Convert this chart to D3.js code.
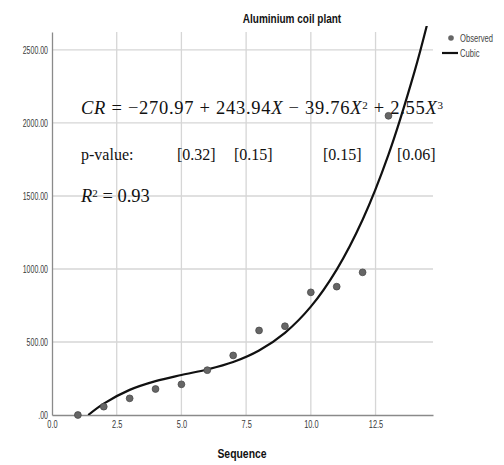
<!DOCTYPE html>
<html>
<head>
<meta charset="utf-8">
<script src="https://cdn.jsdelivr.net/npm/d3@7"></script>
<style>
  body { margin: 0; background: #fff; }
  .narrow { font-family: "Liberation Sans", Arial, sans-serif; }
  .serif { font-family: "Liberation Serif", "Times New Roman", serif; }
</style>
</head>
<body>
<div id="chart"></div>
<script>
// observed points
const seqX = [1, 2, 3, 4, 5, 6, 7, 8, 9, 10, 11, 12, 13];
const observed = [0, 57, 114, 178, 210, 307, 408, 579, 608, 840, 879, 977, 2049];

// cubic fit line
const curveX = [1.4, 2, 3, 4, 5, 6, 7, 8, 9, 10, 11, 12, 13, 14, 14.5];
const curveY = [0, 78, 172, 232, 274, 312, 363, 442, 563, 742, 996, 1337, 1783, 2348, 2680];

const xTicks = [0, 2.5, 5, 7.5, 10, 12.5];
const yTicks = [0, 500, 1000, 1500, 2000, 2500];
const pValues = ["[0.32]", "[0.15]", "[0.15]", "[0.06]"];

const W = 504, H = 465;
const plotL = 52, plotR = 433, plotT = 32, plotB = 415;

const svg = d3.select("#chart").append("svg")
  .attr("width", W).attr("height", H);

// squeeze Arial-like text to look like Arial Narrow
function squeeze(sel, k) {
  sel.each(function () {
    const len = this.getComputedTextLength();
    d3.select(this).attr("textLength", len * k).attr("lengthAdjust", "spacingAndGlyphs");
  });
}

const x = d3.scaleLinear().domain([0, 14.72]).range([plotL, plotR]);
const y = d3.scaleLinear().domain([0, 2623]).range([plotB, plotT]);

// grid
svg.append("g").selectAll("line").data(yTicks.filter(d => d > 0)).enter()
  .append("line")
  .attr("x1", plotL).attr("x2", plotR)
  .attr("y1", d => y(d)).attr("y2", d => y(d))
  .attr("stroke", "#d6d6d6").attr("stroke-width", 1.3);

svg.append("g").selectAll("line").data(xTicks.filter(d => d > 0)).enter()
  .append("line")
  .attr("x1", d => x(d)).attr("x2", d => x(d))
  .attr("y1", plotT).attr("y2", plotB)
  .attr("stroke", "#d6d6d6").attr("stroke-width", 1.3);

// axes
const yAxis = svg.append("g")
  .attr("transform", `translate(${plotL},0)`)
  .call(d3.axisLeft(y).tickValues(yTicks).tickSize(0).tickPadding(4)
    .tickFormat(d => d === 0 ? ".00" : d3.format(".2f")(d)));
yAxis.select(".domain").attr("stroke", "#8a8a8a").attr("stroke-width", 1.3);
yAxis.selectAll("text").attr("class", "narrow").style("font-size", "10px").attr("fill", "#3a3a3a")
  .call(squeeze, 0.7);

const xAxis = svg.append("g")
  .attr("transform", `translate(0,${plotB})`)
  .call(d3.axisBottom(x).tickValues(xTicks).tickSize(0).tickPadding(6)
    .tickFormat(d3.format(".1f")));
xAxis.select(".domain").attr("stroke", "#8a8a8a").attr("stroke-width", 1.3);
xAxis.selectAll("text").attr("class", "narrow").style("font-size", "10px").attr("fill", "#3a3a3a")
  .call(squeeze, 0.74);

// clip
svg.append("clipPath").attr("id", "plot")
  .append("rect").attr("x", plotL).attr("y", plotT - 6).attr("width", plotR - plotL).attr("height", plotB - plotT + 6);

// fit line
const line = d3.line()
  .x((d, i) => x(curveX[i]))
  .y(d => y(d))
  .curve(d3.curveCatmullRom);

svg.append("path")
  .datum(curveY)
  .attr("d", line)
  .attr("clip-path", "url(#plot)")
  .attr("fill", "none")
  .attr("stroke", "#111")
  .attr("stroke-width", 2.2);

// observed points
svg.append("g").selectAll("circle").data(observed).enter()
  .append("circle")
  .attr("cx", (d, i) => x(seqX[i]))
  .attr("cy", d => y(d))
  .attr("r", 3.4)
  .attr("fill", "#666")
  .attr("stroke", "#4a4a4a")
  .attr("stroke-width", 0.8);

// title & axis label
svg.append("text")
  .attr("class", "narrow")
  .attr("x", 292).attr("y", 23)
  .attr("text-anchor", "middle")
  .style("font-size", "12.5px").style("font-weight", "bold")
  .attr("fill", "#111")
  .text("Aluminium coil plant")
  .call(squeeze, 0.8);

svg.append("text")
  .attr("class", "narrow")
  .attr("x", 242).attr("y", 458)
  .attr("text-anchor", "middle")
  .style("font-size", "13px").style("font-weight", "bold")
  .attr("fill", "#111")
  .text("Sequence")
  .call(squeeze, 0.8);

// legend
svg.append("circle").attr("cx", 451).attr("cy", 38).attr("r", 2.8).attr("fill", "#666");
svg.append("text").attr("class", "narrow").attr("x", 460).attr("y", 41.5)
  .style("font-size", "10px").attr("fill", "#444").text("Observed").call(squeeze, 0.76);
svg.append("line").attr("x1", 442).attr("x2", 458).attr("y1", 53).attr("y2", 53)
  .attr("stroke", "#111").attr("stroke-width", 2.2);
svg.append("text").attr("class", "narrow").attr("x", 460).attr("y", 57)
  .style("font-size", "10px").attr("fill", "#444").text("Cubic").call(squeeze, 0.76);

// equation
const eq = svg.append("text")
  .attr("class", "serif")
  .attr("x", 81).attr("y", 114)
  .style("font-size", "18.5px")
  .attr("fill", "#111")
  .attr("textLength", 362)
  .attr("lengthAdjust", "spacing");
const parts = [
  ["CR", true], [" = −270.97 + 243.94", false], ["X", true], [" − 39.76", false], ["X", true],
  ["2", "sup"], [" + 2.55", false], ["X", true], ["3", "sup"]
];
parts.forEach(p => {
  const t = eq.append("tspan").text(p[0]);
  if (p[1] === true) t.style("font-style", "italic");
  if (p[1] === "sup") t.style("font-size", "11px").attr("baseline-shift", "5");
});

// p-values
svg.append("text").attr("class", "serif").attr("x", 81).attr("y", 160)
  .style("font-size", "16px").attr("fill", "#111").text("p-value:");
const pX = [177, 234, 323, 397];
svg.append("g").selectAll("text").data(pValues).enter()
  .append("text").attr("class", "serif")
  .attr("x", (d, i) => pX[i]).attr("y", 160)
  .style("font-size", "16px").attr("fill", "#111")
  .text(d => d);

// R squared
const r2 = svg.append("text").attr("class", "serif").attr("x", 81).attr("y", 202)
  .style("font-size", "18.5px").attr("fill", "#111");
r2.append("tspan").style("font-style", "italic").text("R");
r2.append("tspan").style("font-size", "11px").attr("baseline-shift", "5").text("2");
r2.append("tspan").text(" = 0.93");
</script>
</body>
</html>
